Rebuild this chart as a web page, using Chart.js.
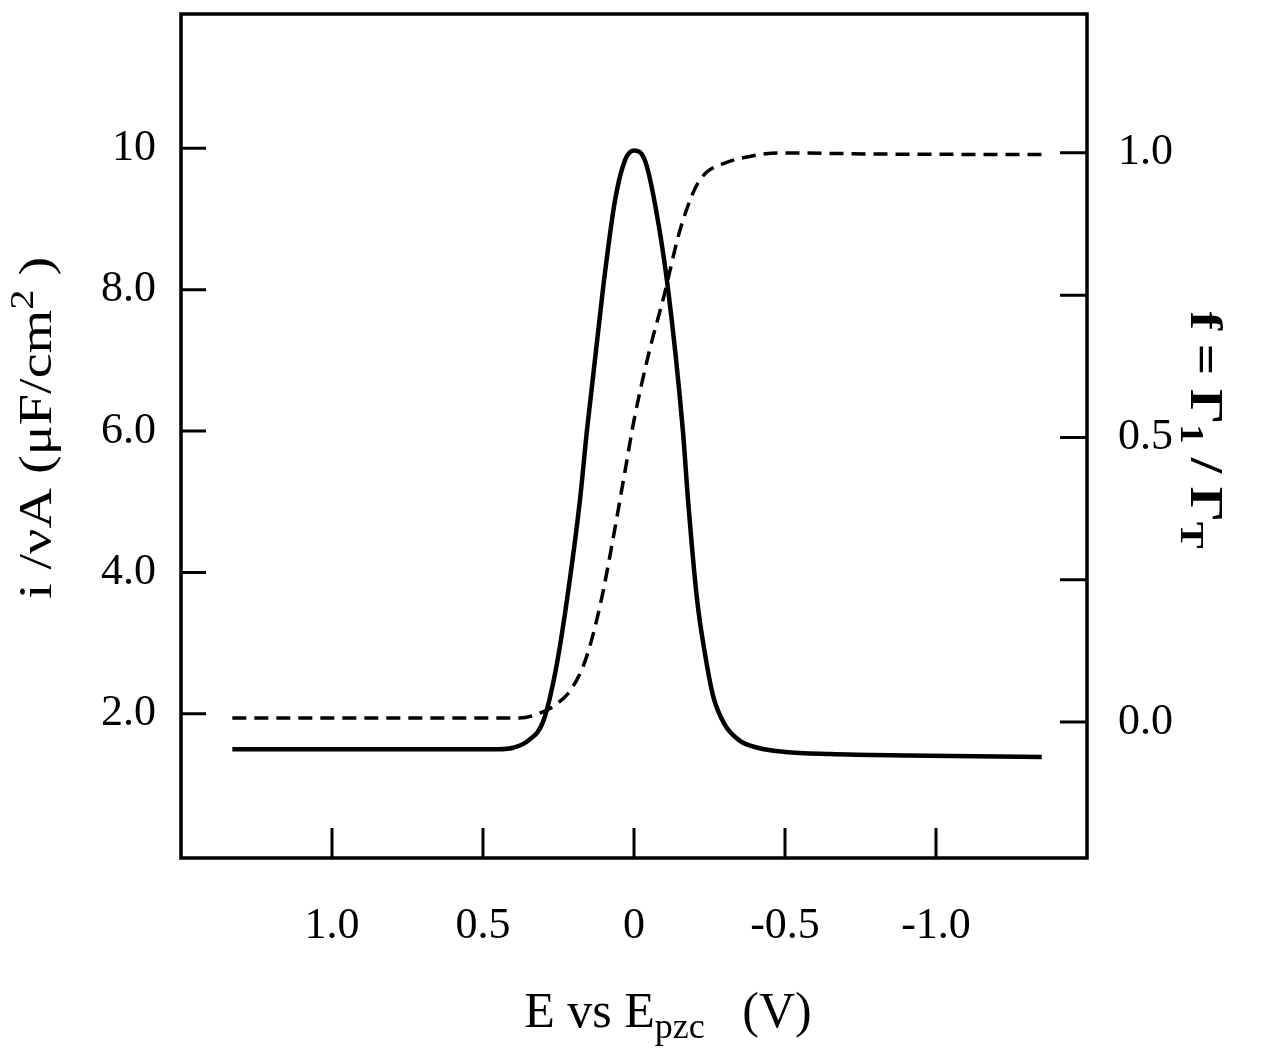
<!DOCTYPE html>
<html>
<head>
<meta charset="utf-8">
<script src="https://cdn.jsdelivr.net/npm/chart.js@4.4.1/dist/chart.umd.min.js"></script>
<style>
html, body { margin: 0; padding: 0; background: #fff; }
</style>
</head>
<body>
<canvas id="graph" width="1261" height="1052"></canvas>
<script>
// potential (V vs Epzc) and the two curves
const potentialI = [1.33, 0.8, 0.45, 0.40, 0.35, 0.30, 0.26, 0.222, 0.179, 0.156, 0.103, 0.063, 0.03, 0.0, -0.036, -0.07, -0.113, -0.162, -0.179, -0.209, -0.235, -0.262, -0.30, -0.35, -0.41, -0.5, -0.65, -0.9, -1.35];
const currentI = [1.50, 1.50, 1.50, 1.52, 1.62, 1.9, 2.6, 3.61, 5.02, 6.0, 8.0, 9.26, 9.83, 9.97, 9.83, 9.2, 8.0, 6.0, 5.02, 3.61, 2.85, 2.25, 1.85, 1.62, 1.52, 1.46, 1.43, 1.41, 1.39];

const potentialF = [1.33, 0.8, 0.38, 0.31, 0.26, 0.21, 0.16, 0.11, 0.07, 0.03, 0.0, -0.05, -0.10, -0.15, -0.20, -0.225, -0.25, -0.30, -0.35, -0.48, -0.8, -1.35];
const coverageF = [0.007, 0.007, 0.007, 0.016, 0.03, 0.056, 0.11, 0.21, 0.32, 0.44, 0.53, 0.65, 0.75, 0.86, 0.935, 0.957, 0.97, 0.982, 0.99, 1.0, 0.998, 0.997];

const xTickValues = [1.0, 0.5, 0, -0.5, -1.0];
const xTickLabels = ['1.0', '0.5', '0', '-0.5', '-1.0'];
const leftTickValues = [2, 4, 6, 8, 10];
const leftTickLabels = ['2.0', '4.0', '6.0', '8.0', '10'];
const rightTickValues = [0, 0.25, 0.5, 0.75, 1.0];
const rightTickLabels = ['0.0', '', '0.5', '', '1.0'];

const serif = '"Liberation Serif", "Times New Roman", serif';

function setTicks(values) {
    return function (scale) {
        scale.ticks = values.map(v => ({ value: v }));
    };
}

// draw text made of pieces, some of them sub/superscript, centred on (x, y)
function drawRich(ctx, parts, x, y, angle, size, weight, stretch) {
    ctx.save();
    ctx.translate(x, y);
    ctx.rotate(angle);
    ctx.scale(stretch, 1);
    ctx.fillStyle = '#000';
    ctx.textBaseline = 'alphabetic';
    let total = 0;
    const widths = parts.map(p => {
        const s = p.sub || p.sup ? size * 0.72 : size;
        ctx.font = weight + ' ' + s + 'px ' + serif;
        const w = ctx.measureText(p.t).width;
        total += w;
        return w;
    });
    let cx = -total / 2;
    parts.forEach((p, i) => {
        const s = p.sub || p.sup ? size * 0.72 : size;
        ctx.font = weight + ' ' + s + 'px ' + serif;
        let dy = size * 0.33;
        if (p.sub) dy += size * 0.22;
        if (p.sup) dy -= size * 0.4;
        ctx.fillText(p.t, cx, dy);
        cx += widths[i];
    });
    ctx.restore();
}

const framePlugin = {
    id: 'frame',
    afterDatasetsDraw(chart) {
        const ctx = chart.ctx;
        const a = chart.chartArea;
        ctx.save();
        ctx.strokeStyle = '#000';
        ctx.lineWidth = 3.5;
        ctx.strokeRect(a.left, a.top, a.right - a.left, a.bottom - a.top);
        ctx.lineWidth = 3;
        ctx.beginPath();
        chart.scales.x.ticks.forEach(t => {
            const px = chart.scales.x.getPixelForValue(t.value);
            ctx.moveTo(px, a.bottom);
            ctx.lineTo(px, a.bottom - 30);
        });
        chart.scales.yI.ticks.forEach(t => {
            const py = chart.scales.yI.getPixelForValue(t.value);
            ctx.moveTo(a.left, py);
            ctx.lineTo(a.left + 25, py);
        });
        chart.scales.yF.ticks.forEach(t => {
            const py = chart.scales.yF.getPixelForValue(t.value);
            ctx.moveTo(a.right, py);
            ctx.lineTo(a.right - 27, py);
        });
        ctx.stroke();
        ctx.restore();

        drawRich(ctx, [{ t: 'E vs E' }, { t: 'pzc', sub: true }, { t: '   (V)' }], 668, 1010, 0, 50, 'normal', 1);
        drawRich(ctx, [{ t: 'i /\u03bdA (\u03bcF/cm' }, { t: '2', sup: true }, { t: ' )' }], 36, 428, -Math.PI / 2, 46, 'normal', 1.22);
        drawRich(ctx, [{ t: 'f = \u0393' }, { t: '1', sub: true }, { t: ' / \u0393' }, { t: 'T', sub: true }], 1206, 430, Math.PI / 2, 46, 'bold', 1.2);
    }
};

const ctx = document.getElementById('graph').getContext('2d');
const chart = new Chart(ctx, {
    type: 'line',
    data: {
        datasets: [{
            label: 'i/vA',
            data: potentialI.map((e, i) => ({ x: e, y: currentI[i] })),
            yAxisID: 'yI',
            borderColor: '#000',
            borderWidth: 4.5,
            pointRadius: 0,
            cubicInterpolationMode: 'monotone',
            fill: false
        }, {
            label: 'f',
            data: potentialF.map((e, i) => ({ x: e, y: coverageF[i] })),
            yAxisID: 'yF',
            borderColor: '#000',
            borderWidth: 3.5,
            borderDash: [14, 8],
            pointRadius: 0,
            cubicInterpolationMode: 'monotone',
            fill: false
        }]
    },
    options: {
        responsive: false,
        animation: false,
        devicePixelRatio: 1,
        layout: { padding: { top: 14, left: 0, right: 0, bottom: 0 } },
        plugins: {
            legend: { display: false },
            tooltip: { enabled: false }
        },
        scales: {
            x: {
                type: 'linear',
                reverse: true,
                min: -1.5,
                max: 1.5,
                afterBuildTicks: setTicks(xTickValues),
                afterFit(scale) { scale.height = 194; scale.paddingLeft = 0; scale.paddingRight = 0; },
                grid: { display: false },
                border: { display: false },
                ticks: {
                    padding: 34,
                    maxRotation: 0,
                    autoSkip: false,
                    color: '#000',
                    font: { family: serif, size: 44 },
                    callback: (v, i) => xTickLabels[i]
                }
            },
            yI: {
                type: 'linear',
                position: 'left',
                min: -0.04,
                max: 11.9,
                afterBuildTicks: setTicks(leftTickValues),
                afterFit(scale) { scale.width = 181; scale.paddingTop = 0; scale.paddingBottom = 0; },
                grid: { display: false },
                border: { display: false },
                ticks: {
                    padding: 17,
                    autoSkip: false,
                    color: '#000',
                    font: { family: serif, size: 44 },
                    callback: (v, i) => leftTickLabels[i]
                }
            },
            yF: {
                type: 'linear',
                position: 'right',
                min: -0.239,
                max: 1.244,
                afterBuildTicks: setTicks(rightTickValues),
                afterFit(scale) { scale.width = 174; scale.paddingTop = 0; scale.paddingBottom = 0; },
                grid: { display: false },
                border: { display: false },
                ticks: {
                    padding: 23,
                    autoSkip: false,
                    color: '#000',
                    font: { family: serif, size: 44 },
                    callback: (v, i) => rightTickLabels[i]
                }
            }
        }
    },
    plugins: [framePlugin]
});
</script>
</body>
</html>
